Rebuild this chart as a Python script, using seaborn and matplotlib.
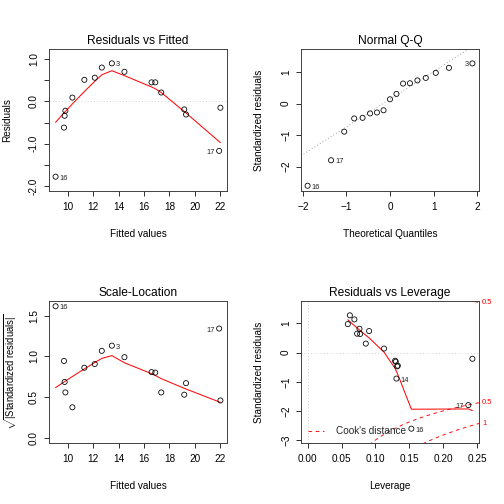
import numpy as np
import pandas as pd
import matplotlib
matplotlib.use("Agg")
import matplotlib.pyplot as plt
from matplotlib.lines import Line2D
from matplotlib.transforms import blended_transform_factory
import seaborn as sns
from statistics import NormalDist

# ---------------- data ----------------
fitted = [9.05, 9.71, 9.76, 9.82, 10.37, 11.31, 12.13, 12.68, 13.47, 14.46,
          16.59, 16.88, 17.35, 19.16, 19.30, 22.00, 21.90]
residuals = [-1.78, -0.62, -0.34, -0.22, 0.09, 0.51, 0.56, 0.80, 0.90, 0.70,
             0.45, 0.45, 0.21, -0.19, -0.31, -0.15, -1.17]
std_resid = [-2.61, -0.89, -0.47, -0.31, 0.14, 0.74, 0.82, 1.14, 1.28, 0.98,
             0.65, 0.64, 0.31, -0.28, -0.45, -0.21, -1.80]
leverage = [0.153, 0.131, 0.132, 0.130, 0.1127, 0.0907, 0.0765, 0.069, 0.0623, 0.0593,
            0.073, 0.0775, 0.0858, 0.129, 0.133, 0.243, 0.237]
obs_labels = ["16", "14", "", "", "", "", "", "", "3", "",
              "", "", "", "", "", "", "17"]
n_params = 2
cook_levels = [0.5, 1.0]

titles = ["Residuals vs Fitted", "Normal Q-Q", "Scale-Location", "Residuals vs Leverage"]

# ---------------- style ----------------
sns.set_theme(style="white")
plt.rcParams["font.family"] = ["Liberation Sans", "DejaVu Sans"]
plt.rcParams["mathtext.fontset"] = "custom"
plt.rcParams["mathtext.rm"] = "Liberation Sans"
plt.rcParams["mathtext.it"] = "Liberation Sans:italic"
plt.rcParams["axes.facecolor"] = "white"
plt.rcParams["figure.facecolor"] = "white"

RED = "#FF0000"


def rext(lo, hi, f=0.04):
    d = (hi - lo) * f
    return lo - d, hi + d


def lowest(x, y, xs, nleft, nright, rw, userw):
    n = len(x)
    rng = x[-1] - x[0]
    h = max(xs - x[nleft], x[nright] - xs)
    h9, h1 = 0.999 * h, 0.001 * h
    w = np.zeros(n)
    a = 0.0
    j = nleft
    while j < n:
        r = abs(x[j] - xs)
        if r <= h9:
            w[j] = 1.0 if r <= h1 else (1 - (r / h) ** 3) ** 3
            if userw:
                w[j] *= rw[j]
            a += w[j]
        elif x[j] > xs:
            break
        j += 1
    nrt = j - 1
    if a <= 0:
        return 0.0, False
    sl = slice(nleft, nrt + 1)
    w[sl] /= a
    if h > 0:
        a = np.sum(w[sl] * x[sl])
        b = xs - a
        c = np.sum(w[sl] * (x[sl] - a) ** 2)
        if np.sqrt(c) > 0.001 * rng:
            b /= c
            w[sl] *= (b * (x[sl] - a) + 1)
    return float(np.sum(w[sl] * y[sl])), True


def lowess(x, y, f=2 / 3, iters=3):
    x = np.asarray(x, float)
    y = np.asarray(y, float)
    o = np.argsort(x, kind="mergesort")
    x, y = x[o], y[o]
    n = len(x)
    ns = max(2, min(n, int(f * n + 1e-7)))
    delta = 0.01 * (x[-1] - x[0])
    rw = np.ones(n)
    ys = np.zeros(n)
    for it in range(iters + 1):
        nleft, nright = 0, ns - 1
        last = -1
        i = 0
        while True:
            if nright < n - 1:
                d1 = x[i] - x[nleft]
                d2 = x[nright + 1] - x[i]
                if d1 > d2:
                    nleft += 1
                    nright += 1
                    continue
            val, ok = lowest(x, y, x[i], nleft, nright, rw, it > 0)
            ys[i] = val if ok else y[i]
            if last < i - 1:
                denom = x[i] - x[last]
                for jj in range(last + 1, i):
                    al = (x[jj] - x[last]) / denom
                    ys[jj] = al * ys[i] + (1 - al) * ys[last]
            last = i
            cut = x[last] + delta
            i = last + 1
            while i < n:
                if x[i] > cut:
                    break
                if x[i] == x[last]:
                    ys[i] = ys[last]
                    last = i
                i += 1
            i = max(last + 1, i - 1)
            if last >= n - 1:
                break
        res = y - ys
        if it >= iters:
            break
        sc = np.mean(np.abs(res))
        cmad = 6 * np.median(np.abs(res))
        if cmad < 1e-7 * sc:
            break
        r = np.abs(res)
        rw = np.where(r <= 0.001 * cmad, 1.0,
                      np.where(r > 0.999 * cmad, 0.0, (1 - (r / cmad) ** 2) ** 2))
    return x, ys


def style_axes(ax, title, xlabel, ylabel, ylab_x=-0.236):
    for s in ax.spines.values():
        s.set_visible(True)
        s.set_color("#333333")
        s.set_linewidth(0.9)
    ax.tick_params(axis="both", direction="out", length=5, width=0.8,
                   labelsize=10, colors="black", bottom=True, left=True,
                   top=False, right=False)
    ax.tick_params(axis="x", pad=6)
    ax.tick_params(axis="y", pad=5, labelrotation=90)
    for t in ax.get_yticklabels():
        t.set_va("center")
    ax.set_title(title, fontsize=12, pad=5, color="black")
    ax.set_xlabel(xlabel, fontsize=10, color="black")
    ax.set_ylabel(ylabel, fontsize=10, color="black")
    ax.xaxis.set_label_coords(0.5, -0.30)
    ax.xaxis.label.set_va("center")
    ax.yaxis.set_label_coords(ylab_x, 0.5)
    ax.yaxis.label.set_va("center")
    ax.grid(False)


def points(ax, x, y):
    df = pd.DataFrame({"x": x, "y": y})
    sns.scatterplot(data=df, x="x", y="y", ax=ax, marker="o", s=26,
                    facecolors="none", edgecolor="black", linewidth=0.8,
                    legend=False, zorder=3)


def smooth(ax, x, y):
    sx, sy = lowess(x, y)
    df = pd.DataFrame({"x": sx, "y": sy})
    sns.lineplot(data=df, x="x", y="y", ax=ax, color=RED, linewidth=1,
                 sort=False, estimator=None, zorder=2)


def label_points(ax, x, y, idx):
    xs = [x[i] for i in idx]
    mid = (min(xs) + max(xs)) / 2
    for i in idx:
        right = x[i] <= mid
        ax.annotate(obs_labels[i], (x[i], y[i]),
                    xytext=(4 if right else -4, -1.5), textcoords="offset points",
                    ha="left" if right else "right", va="center",
                    fontsize=7.5, color="#222222", zorder=4)


fig = plt.figure(figsize=(7, 7), dpi=72)
W, H = 178 / 504, 142 / 504
pos = [(49 / 504, 1 - 191 / 504), (301 / 504, 1 - 191 / 504),
       (49 / 504, 1 - 443 / 504), (301 / 504, 1 - 443 / 504)]
axs = [fig.add_axes([p[0], p[1], W, H]) for p in pos]

f_arr = np.array(fitted)
r_arr = np.array(residuals)
rs_arr = np.array(std_resid)
h_arr = np.array(leverage)
n = len(f_arr)

top_r = list(np.argsort(-np.abs(r_arr))[:3])
top_rs = list(np.argsort(-np.abs(rs_arr))[:3])
cook = rs_arr ** 2 / n_params * h_arr / (1 - h_arr)
top_cook = list(np.argsort(-cook)[:3])

# ---- 1. Residuals vs Fitted ----
ax = axs[0]
ylim1 = rext(*rext(r_arr.min(), r_arr.max(), 0.08))
ax.axhline(0, color="#BEBEBE", lw=0.8, ls=(0, (1, 3)), zorder=1)
smooth(ax, f_arr, r_arr)
points(ax, f_arr, r_arr)
label_points(ax, f_arr, r_arr, top_r)
ax.set_xlim(*rext(f_arr.min(), f_arr.max()))
ax.set_ylim(*ylim1)
yt = np.arange(-2.0, 1.01, 0.5)
ax.set_yticks(yt)
ax.set_yticklabels([f"{v:.1f}" if abs(v - round(v)) < 1e-9 else "" for v in yt])
ax.set_xticks([10, 12, 14, 16, 18, 20, 22])
style_axes(ax, titles[0], "Fitted values", "Residuals")

# ---- 2. Normal Q-Q ----
ax = axs[1]
nd = NormalDist()
pp = (np.arange(1, n + 1) - 0.5) / n
q_sorted = np.array([nd.inv_cdf(p) for p in pp])
order = np.argsort(rs_arr, kind="mergesort")
theo = np.empty(n)
theo[order] = q_sorted
yq = np.quantile(rs_arr, [0.25, 0.75])
xq = np.array([nd.inv_cdf(0.25), nd.inv_cdf(0.75)])
slope = (yq[1] - yq[0]) / (xq[1] - xq[0])
inter = yq[0] - slope * xq[0]
ax.axline((0, inter), slope=slope, color="#7F7F7F", lw=0.8, ls=(0, (1, 3)), zorder=1)
points(ax, theo, rs_arr)
label_points(ax, theo, rs_arr, top_rs)
lo, hi = rs_arr.min(), rs_arr.max()
hi = hi + (hi - lo) * 0.075
ax.set_xlim(*rext(theo.min(), theo.max()))
ax.set_ylim(*rext(lo, hi))
ax.set_xticks([-2, -1, 0, 1, 2])
ax.set_yticks([-2, -1, 0, 1])
style_axes(ax, titles[1], "Theoretical Quantiles", "Standardized residuals")

# ---- 3. Scale-Location ----
ax = axs[2]
sq = np.sqrt(np.abs(rs_arr))
smooth(ax, f_arr, sq)
points(ax, f_arr, sq)
label_points(ax, f_arr, sq, top_rs)
ax.set_xlim(*rext(f_arr.min(), f_arr.max()))
ax.set_ylim(*rext(0, sq.max()))
ax.set_xticks([10, 12, 14, 16, 18, 20, 22])
ax.set_yticks([0.0, 0.5, 1.0, 1.5])
ax.set_yticklabels(["0.0", "0.5", "1.0", "1.5"])
style_axes(ax, titles[2], "Fitted values",
           r"$\sqrt{|\mathrm{Standardized\ residuals}|}$", ylab_x=-0.218)
ax.yaxis.label.set_fontsize(9.5)

# ---- 4. Residuals vs Leverage ----
ax = axs[3]
xlim4 = rext(0, h_arr.max())
ylim4 = rext(*rext(rs_arr.min(), rs_arr.max(), 0.08))
ax.axhline(0, color="#BEBEBE", lw=0.8, ls=(0, (1, 3)), zorder=1)
ax.axvline(0, color="#BEBEBE", lw=0.8, ls=(0, (1, 3)), zorder=1)
smooth(ax, h_arr, rs_arr)
points(ax, h_arr, rs_arr)
label_points(ax, h_arr, rs_arr, top_cook)
hh = np.linspace(min(h_arr.min(), h_arr.max() / 100), xlim4[1], 101)
trans = blended_transform_factory(ax.transAxes, ax.transData)
xmax = min(0.99, xlim4[1])
for crit in cook_levels:
    cl = np.sqrt(crit * n_params * (1 - hh) / hh)
    ax.plot(hh, cl, color=RED, lw=0.9, ls=(0, (4, 4)), zorder=2)
    ax.plot(hh, -cl, color=RED, lw=0.9, ls=(0, (4, 4)), zorder=2)
    aty = np.sqrt(crit * n_params * (1 - xmax) / xmax)
    lab = f"{crit:g}"
    for yy in (aty, -aty):
        if ylim4[0] <= yy <= ylim4[1]:
            ax.text(1.018, yy, lab, transform=trans, color=RED, fontsize=7.5,
                    ha="left", va="center", clip_on=False)
ax.set_xlim(*xlim4)
ax.set_ylim(*ylim4)
ax.set_xticks([0.00, 0.05, 0.10, 0.15, 0.20, 0.25])
ax.set_xticklabels(["0.00", "0.05", "0.10", "0.15", "0.20", "0.25"])
ax.set_yticks([-3, -2, -1, 0, 1])
ax.legend(handles=[Line2D([0], [0], color=RED, lw=0.9, ls=(0, (4, 4)))],
          labels=["Cook's distance"], loc="lower left", frameon=False,
          fontsize=10, handlelength=1.6, borderaxespad=0.25, handletextpad=1.2)
style_axes(ax, titles[3], "Leverage", "Standardized residuals")

fig.savefig("out.png", dpi=72)
